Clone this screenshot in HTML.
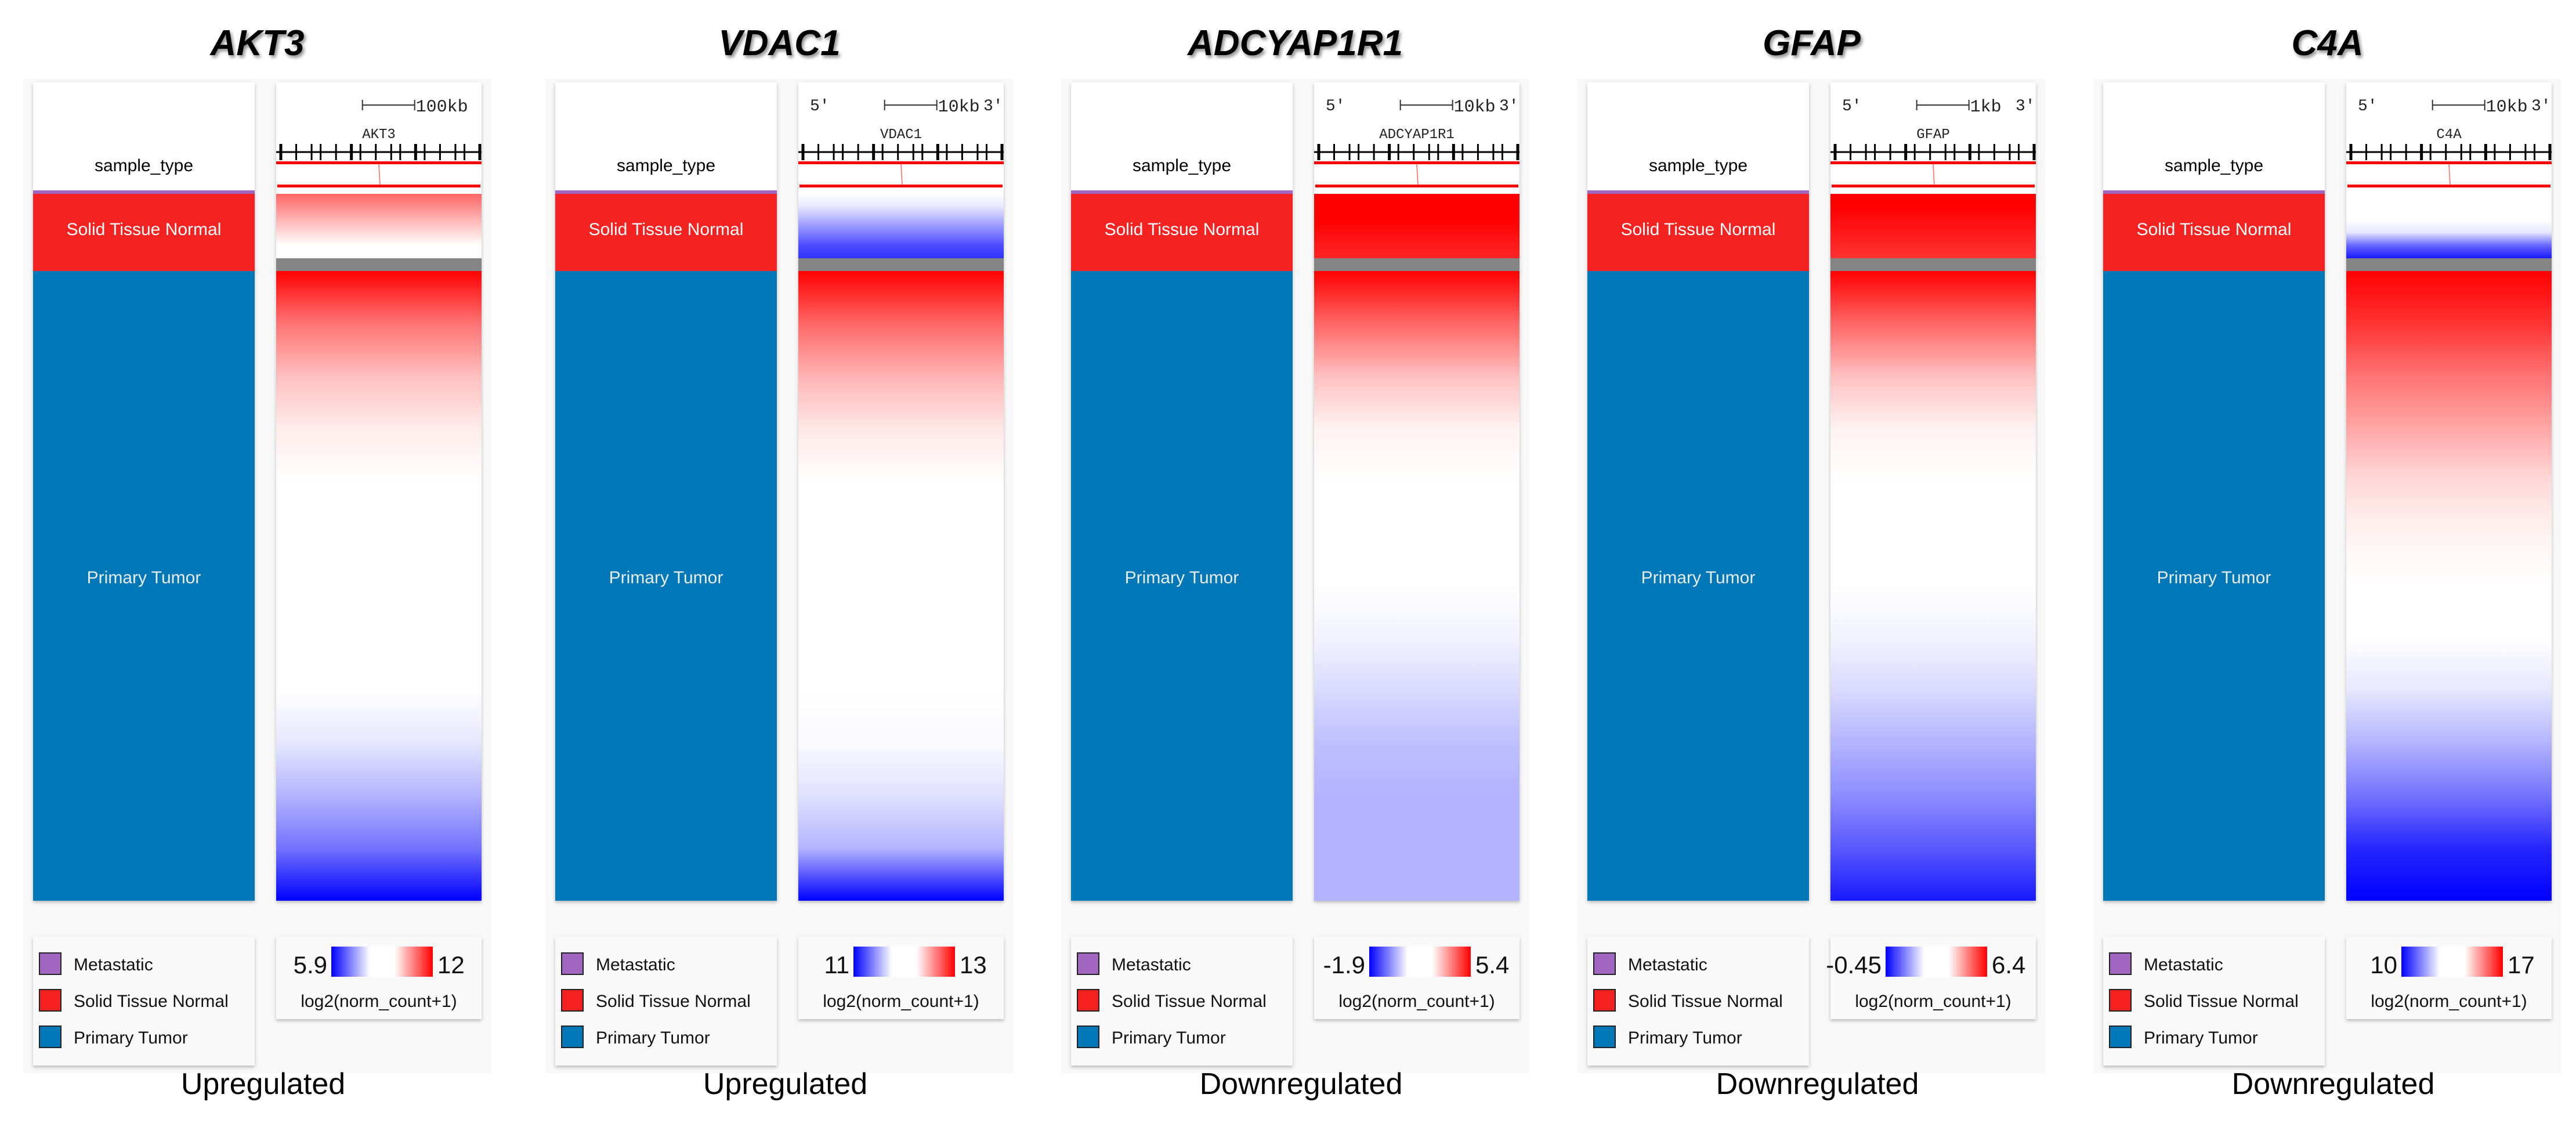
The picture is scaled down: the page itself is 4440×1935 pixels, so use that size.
<!DOCTYPE html>
<html><head><meta charset="utf-8"><style>
html,body{margin:0;padding:0;background:#fff;}
body{width:4440px;height:1935px;overflow:hidden;position:relative;font-family:"Liberation Sans",Arial,sans-serif;}
</style></head><body>
<svg id="fig" width="4440" height="1935" xmlns="http://www.w3.org/2000/svg" style="position:absolute;left:0;top:0">
<defs>
<filter id="ts" x="-10%" y="-10%" width="130%" height="140%"><feDropShadow dx="3" dy="4" stdDeviation="3" flood-color="#000" flood-opacity="0.45"/></filter>
<filter id="bs" x="-5%" y="-5%" width="110%" height="110%"><feDropShadow dx="0" dy="3" stdDeviation="3" flood-color="#000" flood-opacity="0.25"/></filter>
</defs>
</svg>
<script>
// ---- data ----
const genes = ["AKT3","VDAC1","ADCYAP1R1","GFAP","C4A"];
const regulation = ["Upregulated","Upregulated","Downregulated","Downregulated","Downregulated"];
const scaleLabels = ["100kb","10kb","10kb","1kb","10kb"];
const colorMin = ["5.9","11","-1.9","-0.45","10"];
const colorMax = ["12","13","5.4","6.4","17"];
// normalized expression (-1 blue .. 0 white .. 1 red), sorted samples
const normalValues = [
 [0.6,0.45,0.3,0.15,0,0],
 [0,-0.1,-0.3,-0.5,-0.7,-0.8],
 [1,1,1,0.95,0.9,0.85],
 [1,1,0.95,0.9,0.85,0.8],
 [0,0,0,-0.1,-0.6,-0.9]
];
const tumorValues = [
 [1,0.55,0.25,0.08,0,0,0,0,0,-0.1,-0.3,-0.55,-1],
 [1,0.6,0.3,0.1,0,0,0,0,0,-0.02,-0.12,-0.3,-1],
 [1,0.6,0.25,0.05,0,0,0,-0.05,-0.15,-0.25,-0.3,-0.3,-0.3],
 [1,0.6,0.25,0.05,0,0,0,-0.05,-0.15,-0.3,-0.45,-0.65,-0.9],
 [1,0.8,0.55,0.35,0.15,0.05,0,0,-0.1,-0.3,-0.55,-0.85,-1]
];
const legendItems = ["Metastatic","Solid Tissue Normal","Primary Tumor"];
const legendColors = ["#a066c0","#f52020","#0077b6"];

// ---- layout ----
const NS="http://www.w3.org/2000/svg";
const svg=document.getElementById('fig');
const defs=svg.querySelector('defs');
const panelX=[57,957,1846,2736,3625];
const LW=382, RX=419, RW=354;
const TOP=142, HEAD_BOT=328, PURP=334, NORM_BOT=445, GRAY_BOT=467, BOT=1552;
function el(tag,attrs,parent){const e=document.createElementNS(NS,tag);for(const k in attrs)e.setAttribute(k,attrs[k]);(parent||svg).appendChild(e);return e;}
function col(v){if(v>=0){const c=Math.round(255*(1-v));return `rgb(255,${c},${c})`;}const c=Math.round(255*(1+v));return `rgb(${c},${c},255)`;}
function grad(id,vals){const g=el('linearGradient',{id:id,x1:0,y1:0,x2:0,y2:1},defs);vals.forEach((v,i)=>{el('stop',{offset:(i/(vals.length-1)),'stop-color':col(v)},g);});return `url(#${id})`;}

genes.forEach((gname,i)=>{
  const x0=panelX[i];
  const g=el('g',{});
  
  
  el('rect',{x:x0-17,y:TOP-6,width:RX+RW+34,height:1855-TOP,fill:'#f8f8f8'},g);
  const t=el('text',{x:x0+(RX+RW)/2,y:95,'text-anchor':'middle','font-size':62,'font-weight':'bold','font-style':'italic',filter:'url(#ts)',fill:'#000'},g);
  t.textContent=gname;
  
  
  const lc=el('g',{filter:'url(#bs)'},g);
  el('rect',{x:x0,y:TOP,width:LW,height:BOT-TOP,fill:'#fff'},lc);
  el('rect',{x:x0,y:HEAD_BOT,width:LW,height:PURP-HEAD_BOT,fill:'#a066c0'},lc);
  el('rect',{x:x0,y:PURP,width:LW,height:GRAY_BOT-PURP,fill:'#f52020'},lc);
  const pt=el('rect',{x:x0,y:GRAY_BOT,width:LW,height:BOT-GRAY_BOT,fill:'#0077b6'},lc);
  
  
  let tx=el('text',{x:x0+LW/2,y:295,'text-anchor':'middle','font-size':30,fill:'#000'},g);tx.textContent='sample_type';
  tx=el('text',{x:x0+LW/2,y:405,'text-anchor':'middle','font-size':30,fill:'#fff'},g);tx.textContent='Solid Tissue Normal';
  tx=el('text',{x:x0+LW/2,y:1005,'text-anchor':'middle','font-size':30,fill:'#e8eef4'},g);tx.textContent='Primary Tumor';
  const rx=x0+RX;
  const rc=el('g',{filter:'url(#bs)'},g);
  el('rect',{x:rx,y:TOP,width:RW,height:BOT-TOP,fill:'#fff'},rc);
  const hm=el('g',{},g);
  
  
  el('rect',{x:rx,y:PURP,width:RW,height:NORM_BOT-PURP,fill:grad('n'+i,normalValues[i])},hm);
  el('rect',{x:rx,y:NORM_BOT,width:RW,height:GRAY_BOT-NORM_BOT,fill:'#858585'},hm);
  el('rect',{x:rx,y:GRAY_BOT,width:RW,height:BOT-GRAY_BOT,fill:grad('t'+i,tumorValues[i])},hm);
  const tr=el('g',{},g);
  
  
  const sbx=rx+RW*0.42;
  el('line',{x1:sbx,y1:181,x2:sbx+90,y2:181,stroke:'#333','stroke-width':2},tr);
  el('line',{x1:sbx,y1:172,x2:sbx,y2:190,stroke:'#333','stroke-width':2},tr);
  el('line',{x1:sbx+90,y1:172,x2:sbx+90,y2:190,stroke:'#333','stroke-width':2},tr);
  tx=el('text',{x:sbx+92,y:192,'font-size':30,'font-family':'Liberation Mono, monospace',fill:'#222'},tr);tx.textContent=scaleLabels[i];
  if(i>0){tx=el('text',{x:rx+20,y:190,'font-size':28,'font-family':'Liberation Mono, monospace',fill:'#222'},tr);tx.textContent="5'";
    tx=el('text',{x:rx+RW-35,y:190,'font-size':28,'font-family':'Liberation Mono, monospace',fill:'#222'},tr);tx.textContent="3'";}
  tx=el('text',{x:rx+RW/2,y:238,'text-anchor':'middle','font-size':24,'font-family':'Liberation Mono, monospace',fill:'#222'},tr);tx.textContent=gname;
  el('line',{x1:rx,y1:262,x2:rx+RW,y2:262,stroke:'#000','stroke-width':3},tr);
  for(let k=0;k<16;k++){const xx=rx+8+k*(RW-16)/15+((k*37)%11);el('line',{x1:xx,y1:248,x2:xx,y2:276,stroke:'#000','stroke-width':(k%5==0?5:3)},tr);}
  el('rect',{x:rx,y:278,width:RW,height:5,fill:'#f00'},tr);
  el('rect',{x:rx+2,y:318,width:RW-4,height:5,fill:'#f00'},tr);
  el('line',{x1:rx+RW/2,y1:283,x2:rx+RW/2+2,y2:318,stroke:'#f66','stroke-width':1.5},tr);
  const lg=el('g',{},g);
  
  
  el('rect',{x:x0,y:1614,width:LW,height:222,fill:'#f9f9f9',filter:'url(#bs)'},lg);
  legendItems.forEach((lab,j)=>{
    const yy=1642+j*63;
    const sq=el('rect',{x:x0+11,y:yy,width:37,height:37,fill:legendColors[j],stroke:'#222','stroke-width':2},lg);
    
    
    const lt=el('text',{x:x0+70,y:yy+30,'font-size':30,fill:'#111'},lg);lt.textContent=lab;
  });
  const cb=el('g',{},g);
  
  
  el('rect',{x:rx,y:1614,width:RW,height:142,fill:'#f9f9f9',filter:'url(#bs)'},cb);
  const cg=el('linearGradient',{id:'cb'+i,x1:0,y1:0,x2:1,y2:0},defs);
  [[0,'#00f'],[0.38,'#fff'],[0.62,'#fff'],[1,'#f00']].forEach(s=>el('stop',{offset:s[0],'stop-color':s[1]},cg));
  el('rect',{x:rx+95,y:1631,width:175,height:52,fill:'url(#cb'+i+')'},cb);
  tx=el('text',{x:rx+88,y:1677,'text-anchor':'end','font-size':42,fill:'#111'},cb);tx.textContent=colorMin[i];
  tx=el('text',{x:rx+278,y:1677,'font-size':42,fill:'#111'},cb);tx.textContent=colorMax[i];
  tx=el('text',{x:rx+RW/2,y:1735,'text-anchor':'middle','font-size':30,fill:'#111'},cb);tx.textContent='log2(norm_count+1)';
  const rl=el('text',{x:x0+(RX+RW)/2+10,y:1885,'text-anchor':'middle','font-size':52,fill:'#000'},g);
  rl.textContent=regulation[i];
  
  
});
</script>
</body></html>
